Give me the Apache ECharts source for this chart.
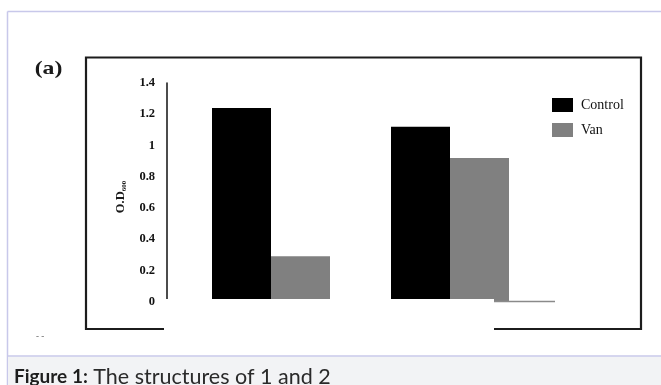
<!DOCTYPE html>
<html><head><meta charset="utf-8">
<script src="https://cdn.jsdelivr.net/npm/echarts@6/dist/echarts.min.js"></script>
<style>html,body{margin:0;padding:0;background:#fff}#c{width:661px;height:385px}</style>
</head><body><div id="c"></div>
<script>
// ---- data ----
const categories = ['Group 1', 'Group 2'];
const seriesNames = ['Control', 'Van'];
const controlValues = [1.24, 1.12];
const vanValues = [0.29, 0.92];
const yTicks = [0, 0.2, 0.4, 0.6, 0.8, 1, 1.2, 1.4];
const panelLabel = '(a)';
const yAxisTitle = 'O.D';
const yAxisTitleSub = '600';
const captionBold = 'Figure 1:';
const captionText = ' The structures of 1 and 2';

const serif = '"Liberation Serif", "DejaVu Serif", serif';
const chart = echarts.init(document.getElementById('c'), null, {renderer: 'canvas'});
chart.setOption({
  animation: false,
  backgroundColor: '#ffffff',
  grid: {left: 181.5, right: 121.5, top: 83, bottom: 83.5, containLabel: false},
  legend: {
    orient: 'vertical', left: 547, top: 93, itemWidth: 21, itemHeight: 14, itemGap: 11,
    icon: 'rect', data: seriesNames,
    textStyle: {fontFamily: serif, fontSize: 14, color: '#111', width: 48, align: 'center', padding: [0, 0, 0, 3]}
  },
  xAxis: {
    type: 'category', data: categories,
    axisLine: {show: false}, axisTick: {show: false}, axisLabel: {show: false}, splitLine: {show: false}
  },
  yAxis: {
    type: 'value', min: yTicks[0], max: yTicks[yTicks.length - 1], interval: yTicks[1] - yTicks[0],
    offset: 14.5,
    axisLine: {show: true, lineStyle: {color: '#111', width: 1.5}},
    axisTick: {show: false}, splitLine: {show: false},
    axisLabel: {margin: 12, fontFamily: serif, fontWeight: 'bold', fontSize: 12.5, color: '#111'}
  },
  series: [
    {name: seriesNames[0], type: 'bar', data: controlValues, barWidth: 59, barGap: '0%', itemStyle: {color: '#000000'}},
    {name: seriesNames[1], type: 'bar', data: vanValues, barWidth: 59, barGap: '0%', itemStyle: {color: '#808080'}}
  ],
  graphic: [
    // page frame
    {type: 'line', z: 1, shape: {x1: 7.5, y1: 11.5, x2: 661, y2: 11.5}, style: {stroke: '#c8c8ea', lineWidth: 1.5}},
    {type: 'line', z: 1, shape: {x1: 7.5, y1: 11.5, x2: 7.5, y2: 385}, style: {stroke: '#c8c8ea', lineWidth: 1.5}},
    {type: 'rect', z: 1, shape: {x: 8, y: 356.5, width: 653, height: 29}, style: {fill: '#f2f3f5'}},
    {type: 'line', z: 2, shape: {x1: 7.5, y1: 356, x2: 661, y2: 356}, style: {stroke: '#c8c8ea', lineWidth: 1.5}},
    {type: 'text', z: 3, x: 14, y: 377, style: {
      text: '{b|' + captionBold + '}{n|' + captionText + '}', verticalAlign: 'middle',
      rich: {
        b: {fontFamily: 'Lato, "Noto Sans", sans-serif', fontWeight: 'bold', fontSize: 19, fill: '#1e1e1e'},
        n: {fontFamily: 'Lato, "Noto Sans", sans-serif', fontSize: 21.5, fill: '#2a2a2a'}
      }}},
    // figure box
    {type: 'rect', z: 5, shape: {x: 86, y: 57.5, width: 555, height: 271.5}, style: {fill: null, stroke: '#1c1c1c', lineWidth: 2.2}},
    // x axis line of embedded chart
    {type: 'line', z: 6, shape: {x1: 167, y1: 301.5, x2: 555, y2: 301.5}, style: {stroke: '#8a8a8a', lineWidth: 1.5}},
    // white patch covering axis labels
    {type: 'rect', z: 50, shape: {x: 164, y: 299, width: 330, height: 36}, style: {fill: '#ffffff'}},
    {type: 'text', z: 6, x: 48.5, y: 69, scaleX: 1.25, style: {text: panelLabel, fontFamily: serif, fontWeight: 'bold', fontSize: 19, fill: '#1a1a1a', align: 'center', verticalAlign: 'middle'}},
    {type: 'text', z: 6, x: 121, y: 197, rotation: Math.PI / 2, style: {
      text: '{m|' + yAxisTitle + '}{s|' + yAxisTitleSub + '}', align: 'center', verticalAlign: 'middle',
      rich: {
        m: {fontFamily: serif, fontWeight: 'bold', fontSize: 12.5, fill: '#1a1a1a'},
        s: {fontFamily: serif, fontWeight: 'bold', fontSize: 7, fill: '#1a1a1a', padding: [6, 0, 0, 0]}
      }}},
    {type: 'text', z: 6, x: 40, y: 337, style: {text: '- -', fontFamily: serif, fontSize: 9, fill: '#555', align: 'center', verticalAlign: 'middle'}}
  ]
});
</script></body></html>
